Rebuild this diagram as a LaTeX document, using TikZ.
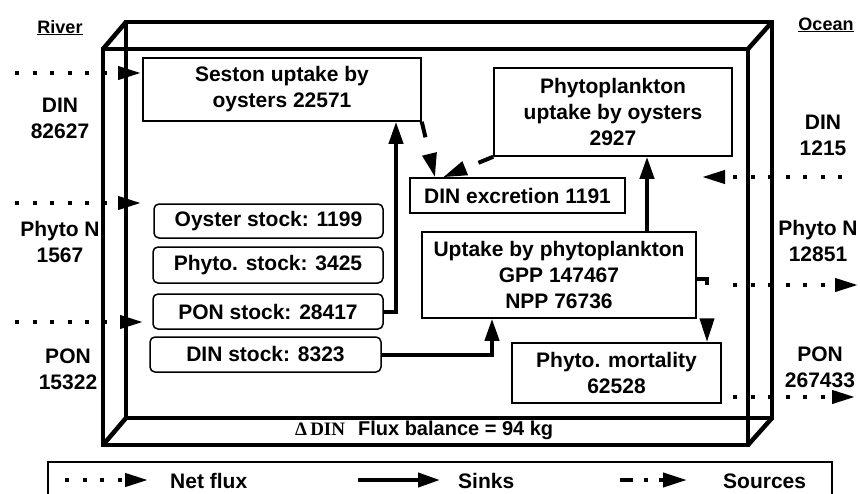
\documentclass[tikz,border=0pt]{standalone}
\usepackage{fontspec}
\setmainfont{Liberation Sans}
\newfontfamily\timesfam{Liberation Serif}
\usepackage{tikz}
\usetikzlibrary{arrows.meta,positioning}

\tikzset{
    flowbox/.style={draw, line width=1.5pt, fill=white, inner sep=0pt, align=center, font=\fontsize{21}{26}\selectfont\bfseries},
    stockbox/.style={flowbox, rounded corners=5pt},
    lbl/.style={inner sep=0pt, align=center, font=\fontsize{21}{26}\selectfont\bfseries},
    wall/.style={line width=4.5pt},
    sink/.style={line width=4pt, -{Triangle[length=22pt,width=14pt]}},
    source/.style={line width=4pt, dash pattern=on 16pt off 40pt, -{Triangle[length=24pt,width=14pt]}},
    net/.style={line width=4pt, dash pattern=on 4pt off 13.5pt, -{Triangle[length=23pt,width=13pt]}}
}

\begin{document}
\begin{tikzpicture}[x=1pt,y=-1pt]
    \useasboundingbox (0,0) rectangle (860,493);
    % estuary box
    \draw[wall] (103,49) rectangle (748,445);
    \draw[wall] (126,22) rectangle (772,418);
    \draw[wall] (103,49) -- (126,22) (748,49) -- (772,22)
        (103,445) -- (126,418) (748,445) -- (772,418);

    \node[inner sep=0pt, anchor=base, font=\fontsize{18}{20}\selectfont\bfseries] (river) at (60,33) {\underline{River}};
    \node[inner sep=0pt, anchor=base, font=\fontsize{18}{20}\selectfont\bfseries] (ocean) at (826,30) {\underline{Ocean}};

    \node[lbl] (ldin) at (60,118) {DIN\\82627};
    \node[lbl] (lphy) at (60,242) {Phyto N\\1567};
    \node[lbl] (lpon) at (68,369) {PON\\15322};
    \node[lbl] (rdin) at (823,135) {DIN\\1215};
    \node[lbl] (rphy) at (818,241) {Phyto N\\12851};
    \node[lbl] (rpon) at (820,367) {PON\\267433};

    \node[flowbox, minimum width=278pt, minimum height=63pt] (seston) at (282,89.5) {Seston uptake by\\oysters 22571};
    \node[flowbox, minimum width=238pt, minimum height=88pt] (phyupt) at (613,112) {Phytoplankton\\uptake by oysters\\2927};
    \node[flowbox, minimum width=215pt, minimum height=35pt] (excr) at (517.5,195.5) {DIN excretion 1191};
    \node[stockbox, minimum width=229pt, minimum height=34pt] (oyst) at (268.5,221) {Oyster stock: 1199};
    \node[stockbox, minimum width=230pt, minimum height=36pt] (physt) at (268,265) {Phyto. stock: 3425};
    \node[stockbox, minimum width=230pt, minimum height=35pt] (ponst) at (268,311.5) {PON stock: 28417};
    \node[stockbox, minimum width=231pt, minimum height=35pt] (dinst) at (265.5,354.5) {DIN stock: 8323};
    \node[flowbox, minimum width=274pt, minimum height=86pt] (uptake) at (559,275) {Uptake by phytoplankton\\GPP 147467\\NPP 76736};
    \node[flowbox, minimum width=209pt, minimum height=60pt] (mort) at (616.5,373) {Phyto. mortality\\62528};

    \node[inner sep=0pt, anchor=base west, font=\fontsize{20}{24}\selectfont\bfseries] (balance) at (295,435)
        {{\timesfam\bfseries\fontsize{19}{20}\selectfont Δ\,DIN}\hspace{13pt}Flux balance = 94 kg};

    % sinks and sources
    \draw[sink] (ponst.east) -| (seston.south -| 396,0);
    \draw[sink] (dinst.east) -| (uptake.south -| 492,0);
    \draw[sink] (uptake.north -| 647,0) -- (phyupt.south -| 647,0);
    \draw[source] (seston.south east) -- (excr.north -| 435,0);
    \draw[source] (phyupt.south west) -- (excr.north -| 443,0);
    \draw[source] ([yshift=-4pt]uptake.east) -| (mort.north -| 707,0);

    % net fluxes
    \coordinate (rivdin) at (15,73);   \coordinate (rivdinend) at (141,73);
    \coordinate (rivphy) at (15,203);  \coordinate (rivphyend) at (141,203);
    \coordinate (rivpon) at (15,322);  \coordinate (rivponend) at (143,322);
    \coordinate (ocndin) at (842,177); \coordinate (ocndinend) at (702,177);
    \coordinate (ocnphy) at (733,285); \coordinate (ocnphyend) at (858,285);
    \coordinate (ocnpon) at (733,397); \coordinate (ocnponend) at (855,397);
    \draw[net] (rivdin) -- (rivdinend);
    \draw[net] (rivphy) -- (rivphyend);
    \draw[net] (rivpon) -- (rivponend);
    \draw[net] (ocndin) -- (ocndinend);
    \draw[net] (ocnphy) -- (ocnphyend);
    \draw[net] (ocnpon) -- (ocnponend);

    % legend
    \draw[line width=2pt] (48,500) |- (832,462) -- (832,500);
    \coordinate (legnet) at (65,480);  \coordinate (legnetend) at (148,480);
    \coordinate (legsink) at (358,480); \coordinate (legsinkend) at (440,480);
    \coordinate (legsrc) at (620,480); \coordinate (legsrcend) at (687,480);
    \draw[net] (legnet) -- (legnetend);
    \draw[sink] (legsink) -- (legsinkend);
    \draw[source, dash pattern=on 13pt off 11pt on 4pt off 11pt] (legsrc) -- (legsrcend);
    \node[lbl, anchor=base west] (lnet) at (170,488) {Net flux};
    \node[lbl, anchor=base west] (lsink) at (458,488) {Sinks};
    \node[lbl, anchor=base west] (lsrc) at (723,488) {Sources};
\end{tikzpicture}
\end{document}
